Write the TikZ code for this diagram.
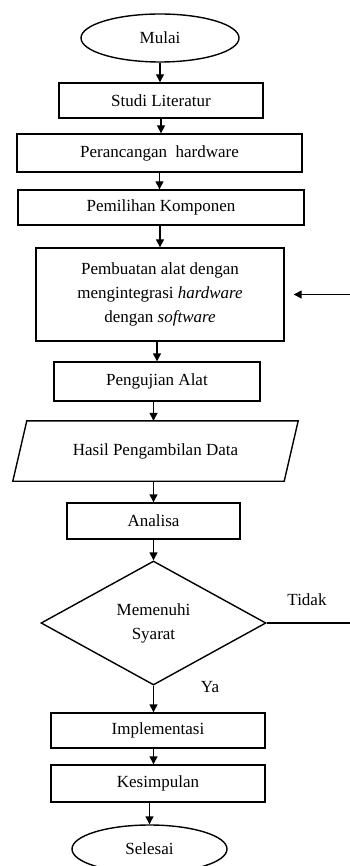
\documentclass[tikz,border=0pt]{standalone}
\usepackage{fontspec}
\setmainfont{Liberation Serif}
\usetikzlibrary{shapes.geometric,arrows.meta}
\begin{document}
\begin{tikzpicture}[x=1pt,y=-1pt,
  every node/.style={font=\fontsize{17}{24}\selectfont},
  box/.style={draw, line width=1.4pt, inner sep=2pt, align=center},
  term/.style={draw, ellipse, line width=1.4pt, inner sep=0pt},
  dec/.style={draw, diamond, line width=1.4pt, inner sep=0pt, align=center},
  arr/.style={line width=1.4pt, -{Triangle[length=8pt,width=8pt]}},
  ln/.style={line width=1.4pt}]
\useasboundingbox (0,0) rectangle (350,866);
\node[term, minimum width=158, minimum height=48] (mulai) at (160,38) {Mulai};
\node[box, minimum width=204, minimum height=35] (studi) at (161,100.5) {Studi Literatur};
\node[box, minimum width=285, minimum height=38] (peran) at (159.5,153) {Perancangan~ hardware};
\node[box, minimum width=286, minimum height=35] (pilih) at (161,207.5) {Pemilihan Komponen};
\node[box, minimum width=248, minimum height=93] (buat) at (160,294.5) {Pembuatan alat dengan\\mengintegrasi \textit{hardware}\\dengan \textit{software}};
\node[box, minimum width=206, minimum height=39] (uji) at (157,381.5) {Pengujian Alat};
\node[minimum width=271, minimum height=60, inner sep=0pt] (hasil) at (155.5,451) {Hasil Pengambilan Data};
\draw[ln] ([xshift=7pt]hasil.north west) -- ([xshift=7pt]hasil.north east) -- ([xshift=-7pt]hasil.south east) -- ([xshift=-7pt]hasil.south west) -- cycle;
\node[box, minimum width=173, minimum height=36] (analisa) at (153.5,521) {Analisa};
\node[dec, minimum width=225, minimum height=124, aspect=1.8] (syarat) at (153.5,623) {Memenuhi\\Syarat};
\node[box, minimum width=214, minimum height=35] (impl) at (158,730.5) {Implementasi};
\node[box, minimum width=214, minimum height=37] (kes) at (158,783.5) {Kesimpulan};
\node[term, minimum width=155, minimum height=48] (selesai) at (149.5,849) {Selesai};
\node (tidak) at (307,600) {Tidak};
\node (ya) at (210,687) {Ya};
\coordinate (inR) at (350,294.5);
\coordinate (outR) at (350,623);
\draw[arr] (mulai.south) -- (mulai.south |- studi.north);
\draw[arr] (studi.south) -- (studi.south |- peran.north);
\draw[arr] (peran.south) -- (peran.south |- pilih.north);
\draw[arr] (pilih.south -| buat.north) -- (buat.north);
\draw[arr] (buat.south -| uji.north) -- (uji.north);
\draw[arr] (uji.south -| syarat.north) -- (hasil.north -| syarat.north);
\draw[arr] (hasil.south -| analisa.north) -- (analisa.north);
\draw[arr] (analisa.south -| syarat.north) -- (syarat.north);
\draw[arr] (syarat.south) -- (syarat.south |- impl.north);
\draw[arr] (impl.south -| syarat.south) -- (syarat.south |- kes.north);
\draw[arr] (kes.south -| selesai.north) -- (selesai.north);
\draw[ln] (syarat.east) -- (outR);
\draw[arr] (inR) -- ([xshift=9pt]buat.east);
\end{tikzpicture}
\end{document}
